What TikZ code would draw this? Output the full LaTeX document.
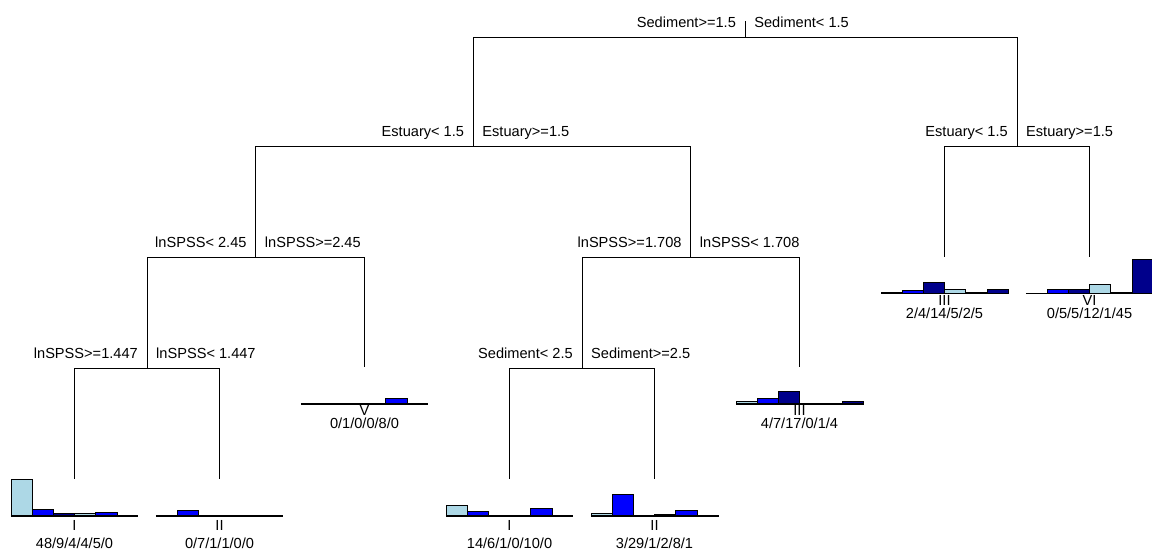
\documentclass[tikz,border=0pt]{standalone}
\usepackage{fontspec}
\setmainfont{Liberation Sans}
\definecolor{clsA}{RGB}{173,216,230}
\definecolor{clsB}{RGB}{0,0,255}
\definecolor{clsC}{RGB}{0,0,139}
\tikzset{
  branch/.style={draw=black, line width=0.8pt},
  txt/.style={inner sep=0pt, font=\fontsize{14.6}{17}\selectfont},
  leftlab/.style={txt, anchor=base east},
  rightlab/.style={txt, anchor=base west},
  leaflab/.style={txt, anchor=base},
  barbox/.style={draw=black, line width=0.5pt},
  histaxis/.style={draw=black, line width=1.2pt},
}
% histogram of a leaf: centre x, base y, six class counts
\newcommand\leafhist[8]{%
  \foreach \c/\col [count=\i from 0] in {#3/clsA,#4/clsB,#5/clsC,#6/clsA,#7/clsB,#8/clsC}{%
    \ifnum\c>0
      \filldraw[barbox, fill=\col] ({#1-63.6+21.2*\i},#2) rectangle ++(21.2,{-0.765*\c});
    \fi
  }%
  \draw[histaxis] ({#1-63.6},#2) -- ({#1+63.6},#2);
}
\begin{document}
\begin{tikzpicture}[x=1pt, y=-1pt]
\useasboundingbox (0,0) rectangle (1152,549);

% split nodes
\coordinate (rootTop) at (745.1,21);
\coordinate (root)    at (745.1,37);
\coordinate (estL)    at (473.25,146);
\coordinate (estR)    at (1017,146);
\coordinate (sp245)   at (255.75,257);
\coordinate (sp1708)  at (690.75,257);
\coordinate (sp1447)  at (147,368);
\coordinate (sed25)   at (582,368);

% leaves (top of the histogram area)
\coordinate (lfA) at (74.5,479.3);
\coordinate (lfB) at (219.5,479.3);
\coordinate (lfC) at (364.5,367.3);
\coordinate (lfD) at (509.5,479.3);
\coordinate (lfE) at (654.5,479.3);
\coordinate (lfF) at (799.5,367.3);
\coordinate (lfG) at (944.5,256.6);
\coordinate (lfH) at (1089.5,256.6);

% branches
\draw[branch] (rootTop) -- (root);
\draw[branch] (root) -| (estL);
\draw[branch] (root) -| (estR);
\draw[branch] (estL) -| (sp245);
\draw[branch] (estL) -| (sp1708);
\draw[branch] (estR) -| (lfG);
\draw[branch] (estR) -| (lfH);
\draw[branch] (sp245) -| (sp1447);
\draw[branch] (sp245) -| (lfC);
\draw[branch] (sp1708) -| (sed25);
\draw[branch] (sp1708) -| (lfF);
\draw[branch] (sp1447) -| (lfA);
\draw[branch] (sp1447) -| (lfB);
\draw[branch] (sed25) -| (lfD);
\draw[branch] (sed25) -| (lfE);

% split labels
\node[leftlab]  (rootL) at ([shift={(-9,-10)}]root) {Sediment>=1.5};
\node[rightlab] (rootR) at ([shift={(9,-10)}]root) {Sediment< 1.5};
\node[leftlab]  (estLL) at ([shift={(-9,-10)}]estL) {Estuary< 1.5};
\node[rightlab] (estLR) at ([shift={(9,-10)}]estL) {Estuary>=1.5};
\node[leftlab]  (estRL) at ([shift={(-9,-10)}]estR) {Estuary< 1.5};
\node[rightlab] (estRR) at ([shift={(9,-10)}]estR) {Estuary>=1.5};
\node[leftlab]  (sp245L) at ([shift={(-9,-10)}]sp245) {lnSPSS< 2.45};
\node[rightlab] (sp245R) at ([shift={(9,-10)}]sp245) {lnSPSS>=2.45};
\node[leftlab]  (sp1708L) at ([shift={(-9,-10)}]sp1708) {lnSPSS>=1.708};
\node[rightlab] (sp1708R) at ([shift={(9,-10)}]sp1708) {lnSPSS< 1.708};
\node[leftlab]  (sp1447L) at ([shift={(-9,-10)}]sp1447) {lnSPSS>=1.447};
\node[rightlab] (sp1447R) at ([shift={(9,-10)}]sp1447) {lnSPSS< 1.447};
\node[leftlab]  (sed25L) at ([shift={(-9,-10)}]sed25) {Sediment< 2.5};
\node[rightlab] (sed25R) at ([shift={(9,-10)}]sed25) {Sediment>=2.5};

% leaf histograms
\leafhist{74.5}{516}{48}{9}{4}{4}{5}{0}
\leafhist{219.5}{516}{0}{7}{1}{1}{0}{0}
\leafhist{364.5}{404}{0}{1}{0}{0}{8}{0}
\leafhist{509.5}{516}{14}{6}{1}{0}{10}{0}
\leafhist{654.5}{516}{3}{29}{1}{2}{8}{1}
\leafhist{799.5}{404}{4}{7}{17}{0}{1}{4}
\leafhist{944.5}{293.3}{2}{4}{14}{5}{2}{5}
\leafhist{1089.5}{293.3}{0}{5}{5}{12}{1}{45}

% leaf labels
\node[leaflab] (clsA1) at (74.5,530) {I};
\node[leaflab] (cntA1) at (74.5,548) {48/9/4/4/5/0};
\node[leaflab] (clsB1) at (219.5,530) {II};
\node[leaflab] (cntB1) at (219.5,548) {0/7/1/1/0/0};
\node[leaflab] (clsC1) at (364.5,415) {V};
\node[leaflab] (cntC1) at (364.5,428.5) {0/1/0/0/8/0};
\node[leaflab] (clsD1) at (509.5,530) {I};
\node[leaflab] (cntD1) at (509.5,548) {14/6/1/0/10/0};
\node[leaflab] (clsE1) at (654.5,530) {II};
\node[leaflab] (cntE1) at (654.5,548) {3/29/1/2/8/1};
\node[leaflab] (clsF1) at (799.5,415) {III};
\node[leaflab] (cntF1) at (799.5,428.5) {4/7/17/0/1/4};
\node[leaflab] (clsG1) at (944.5,305) {III};
\node[leaflab] (cntG1) at (944.5,318) {2/4/14/5/2/5};
\node[leaflab] (clsH1) at (1089.5,305) {VI};
\node[leaflab] (cntH1) at (1089.5,318) {0/5/5/12/1/45};
\end{tikzpicture}
\end{document}
